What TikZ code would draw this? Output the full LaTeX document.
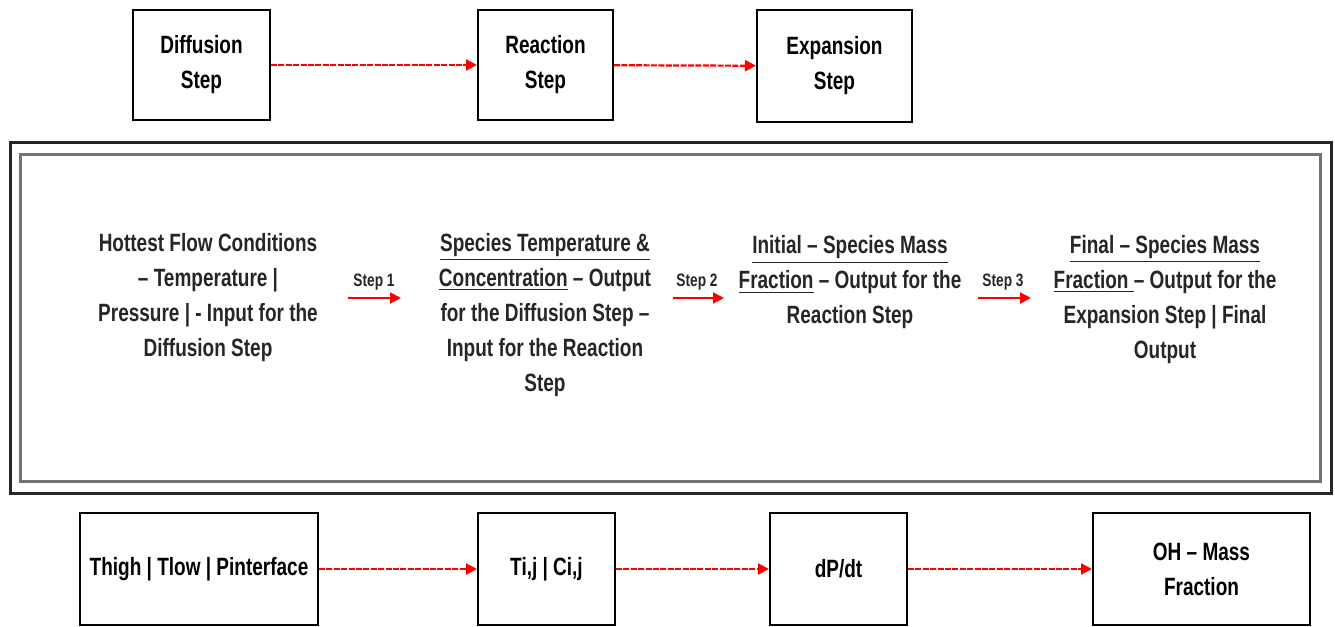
\documentclass[tikz,border=0pt]{standalone}
\usepackage{fontspec}
\setmainfont{Liberation Sans}[FakeStretch=0.76]
\usetikzlibrary{arrows.meta,shadows}

\begin{document}
\begin{tikzpicture}[x=0.5pt,y=-0.5pt,>={Triangle[length=5.5pt,width=5.5pt]},
  font=\fontsize{12.5}{17.5}\selectfont\bfseries,
  stepbox/.style={draw,line width=1pt,fill=white,align=center,inner sep=2pt,
    general shadow={fill=black,shadow xshift=0.7pt,shadow yshift=-0.7pt}},
  flow/.style={->,red,dash pattern=on 3pt off 0.7pt,line width=1.1pt},
  steplbl/.style={font=\fontsize{9}{10}\selectfont\bfseries,text=black!85},
  steparrow/.style={->,red,line width=1pt},
  txt/.style={align=center,text=black!85}]
\useasboundingbox (0,0) rectangle (1335,627);

% top row
\node[stepbox,minimum width=68.5pt,minimum height=55pt] (diff) at (201.5,65) {Diffusion\\ Step};
\node[stepbox,minimum width=67.5pt,minimum height=55pt] (react) at (545.5,65) {Reaction\\ Step};
\node[stepbox,minimum width=77.5pt,minimum height=56pt] (expan) at (834.5,66) {Expansion\\ Step};
\draw[flow] (diff) -- (react);
\draw[flow] (react) -- (expan);

% frame
\draw[line width=1.5pt,black!85] (10,142) rectangle (1331,493);
\draw[line width=1.5pt,black!55] (20,154) rectangle (1320,481);

\node[txt] (hot) at (208,298) {Hottest Flow Conditions\\ -- Temperature |\\ Pressure | - Input for the\\ Diffusion Step};
\node[txt] (spec) at (545,315) {\underline{Species Temperature \&}\\ \underline{Concentration} -- Output\\ for the Diffusion Step --\\ Input for the Reaction\\ Step};
\node[txt] (init) at (850,282.5) {\underline{Initial -- Species Mass}\\ \underline{Fraction} -- Output for the\\ Reaction Step};
\node[txt] (fin) at (1165,299.5) {\underline{Final -- Species Mass}\\ \underline{Fraction }-- Output for the\\ Expansion Step | Final\\ Output};

\node[steplbl] (lbl1) at (374,282) {Step 1};
\node[steplbl] (lbl2) at (697,282) {Step 2};
\node[steplbl] (lbl3) at (1003,282) {Step 3};
\coordinate (s1a) at (348,298); \coordinate (s1b) at (401,298);
\coordinate (s2a) at (673,298); \coordinate (s2b) at (724,298);
\coordinate (s3a) at (978,298); \coordinate (s3b) at (1031,298);
\draw[steparrow] (s1a) -- (s1b);
\draw[steparrow] (s2a) -- (s2b);
\draw[steparrow] (s3a) -- (s3b);

% bottom row
\node[stepbox,minimum width=119pt,minimum height=56pt] (thigh) at (199,569) {Thigh | Tlow | Pinterface};
\node[stepbox,minimum width=68.5pt,minimum height=56pt] (tij) at (546.5,569) {Ti,j | Ci,j};
\node[stepbox,minimum width=68.5pt,minimum height=56pt] (dpdt) at (838.5,569) {dP/dt};
\node[stepbox,minimum width=108.5pt,minimum height=56pt] (oh) at (1201.5,569) {OH -- Mass\\ Fraction};
\draw[flow] (thigh) -- (tij);
\draw[flow] (tij) -- (dpdt);
\draw[flow] (dpdt) -- (oh);
\end{tikzpicture}
\end{document}
